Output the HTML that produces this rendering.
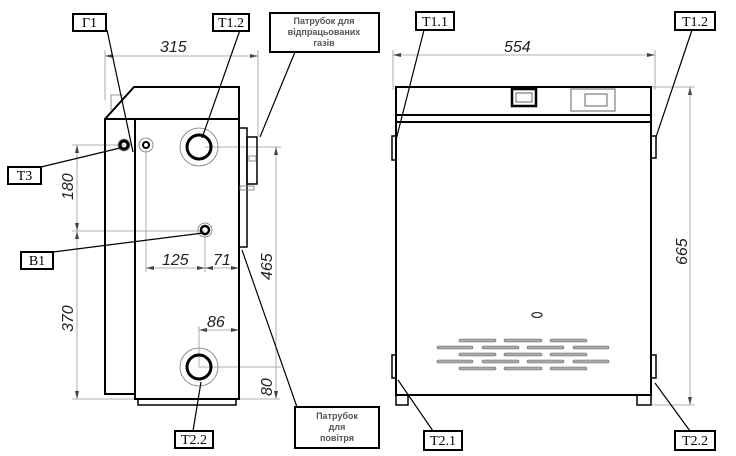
<!DOCTYPE html>
<html><head><meta charset="utf-8"><style>
html,body{margin:0;padding:0;background:#fff;}
svg{display:block;}
.lb{font-family:"Liberation Serif",serif;font-size:14px;fill:#000;}
.dm{font-family:"Liberation Sans",sans-serif;font-style:italic;font-size:16px;fill:#222;}
.sm{font-family:"Liberation Sans",sans-serif;font-size:9px;font-weight:bold;fill:#555;}
</style></head><body>
<svg width="736" height="456" viewBox="0 0 736 456" xmlns="http://www.w3.org/2000/svg">
<rect width="736" height="456" fill="#fff"/>
<!-- LEFT VIEW -->
<g stroke="#999" stroke-width="0.8" fill="none">
<line x1="105" y1="50" x2="105" y2="100"/><line x1="258" y1="50" x2="258" y2="136"/>
<line x1="105" y1="56" x2="258" y2="56"/>
<line x1="72" y1="145" x2="125" y2="145"/><line x1="72" y1="231" x2="205" y2="231"/><line x1="72" y1="399" x2="280" y2="399"/>
<line x1="77" y1="145" x2="77" y2="399"/>
<line x1="205" y1="147" x2="281" y2="147"/><line x1="276" y1="147" x2="276" y2="399"/>
<line x1="199" y1="367" x2="281" y2="367"/>
<line x1="146" y1="150" x2="146" y2="272"/><line x1="205" y1="235" x2="205" y2="272"/><line x1="239" y1="250" x2="239" y2="272"/>
<line x1="146" y1="268" x2="239" y2="268"/>
<line x1="199" y1="326" x2="199" y2="367"/><line x1="199" y1="330" x2="239" y2="330"/>
</g>
<g fill="#444">
<path d="M105 56 l8 -2 v4z"/><path d="M258 56 l-8 -2 v4z"/>
<path d="M77 145 l-2 8 h4z"/><path d="M77 231 l-2 -8 h4z"/><path d="M77 231 l-2 8 h4z"/><path d="M77 399 l-2 -8 h4z"/>
<path d="M276 147 l-2 8 h4z"/><path d="M276 399 l-2 -8 h4z"/>
<path d="M146 268 l8 -2 v4z"/><path d="M205 268 l-8 -2 v4z"/><path d="M205 268 l8 -2 v4z"/><path d="M239 268 l-8 -2 v4z"/>
<path d="M199 330 l8 -2 v4z"/><path d="M239 330 l-8 -2 v4z"/>
</g>
<text class="dm" x="160" y="52">315</text>
<text class="dm" transform="translate(73,200) rotate(-90)">180</text>
<text class="dm" transform="translate(73,332) rotate(-90)">370</text>
<text class="dm" transform="translate(272,280) rotate(-90)">465</text>
<text class="dm" transform="translate(272,396) rotate(-90)">80</text>
<text class="dm" x="162" y="265">125</text>
<text class="dm" x="213" y="265">71</text>
<text class="dm" x="207" y="327">86</text>
<g stroke="#000" stroke-width="2" fill="none">
<path d="M105 119 L134 87 L239 87 L239 119"/>
<rect x="105" y="119" width="30" height="275"/>
<rect x="135" y="119" width="104" height="280"/>
<rect x="138" y="399" width="98" height="6" stroke-width="1.5"/>
<rect x="239" y="128" width="8" height="119" stroke-width="1.5"/>
<rect x="247" y="137" width="10" height="47" stroke-width="1.5"/>
<circle cx="199" cy="147" r="12" stroke-width="3"/>
<circle cx="205" cy="230" r="4" stroke-width="2.5"/>
<circle cx="199" cy="367" r="12" stroke-width="3"/>
<circle cx="124" cy="145" r="4" stroke-width="3"/>
<circle cx="146" cy="145" r="3" stroke-width="2"/>
</g>
<g stroke="#777" stroke-width="0.8" fill="none">
<path d="M111 110 V95 h12"/>
<circle cx="199" cy="147" r="19"/><circle cx="199" cy="367" r="19"/>
<circle cx="205" cy="230" r="7"/><circle cx="146" cy="145" r="7"/><circle cx="124" cy="145" r="6"/>
<rect x="249" y="156" width="7" height="5"/><rect x="240" y="186" width="14" height="4"/>
</g>
<!-- leaders left -->
<g stroke="#000" stroke-width="1.2">
<line x1="107" y1="30" x2="133" y2="152"/>
<line x1="240" y1="30" x2="202" y2="138"/>
<line x1="295" y1="52" x2="260" y2="137"/>
<line x1="41" y1="167" x2="120" y2="148"/>
<line x1="53" y1="252" x2="203" y2="233"/>
<line x1="193" y1="431" x2="201" y2="382"/>
<line x1="297" y1="407" x2="242" y2="250"/>
</g>
<g stroke="#000" stroke-width="2" fill="#fff">
<rect x="73" y="14" width="33" height="17"/>
<rect x="213" y="14" width="36" height="17"/>
<rect x="270" y="13" width="109" height="39"/>
<rect x="8" y="167" width="33" height="17"/>
<rect x="21" y="252" width="32" height="17"/>
<rect x="175" y="431" width="38" height="17"/>
<rect x="295" y="407" width="84" height="41"/>
</g>
<text class="lb" x="89.5" y="27" text-anchor="middle">Г1</text>
<text class="lb" x="231" y="27" text-anchor="middle">T1.2</text>
<text class="lb" x="24.5" y="180" text-anchor="middle">T3</text>
<text class="lb" x="37" y="265" text-anchor="middle">B1</text>
<text class="lb" x="194" y="444" text-anchor="middle">T2.2</text>
<text class="sm" x="324" y="24" text-anchor="middle">Патрубок для</text>
<text class="sm" x="324" y="35" text-anchor="middle">відпрацьованих</text>
<text class="sm" x="324" y="46" text-anchor="middle">газів</text>
<text class="sm" x="337" y="419" text-anchor="middle">Патрубок</text>
<text class="sm" x="337" y="430" text-anchor="middle">для</text>
<text class="sm" x="337" y="441" text-anchor="middle">повітря</text>

<!-- RIGHT VIEW -->
<g stroke="#999" stroke-width="0.8" fill="none">
<line x1="393" y1="50" x2="393" y2="90"/><line x1="655" y1="50" x2="655" y2="90"/>
<line x1="393" y1="55" x2="655" y2="55"/>
<line x1="651" y1="87" x2="695" y2="87"/><line x1="651" y1="405" x2="695" y2="405"/>
<line x1="690" y1="87" x2="690" y2="405"/>
</g>
<g fill="#444">
<path d="M393 55 l8 -2 v4z"/><path d="M655 55 l-8 -2 v4z"/>
<path d="M690 87 l-2 8 h4z"/><path d="M690 405 l-2 -8 h4z"/>
</g>
<text class="dm" x="504" y="52">554</text>
<text class="dm" transform="translate(687,265) rotate(-90)">665</text>
<g stroke="#000" stroke-width="2" fill="none">
<rect x="396" y="87" width="255" height="308"/>
<line x1="396" y1="115" x2="651" y2="115"/><line x1="396" y1="122" x2="651" y2="122"/>
<rect x="512" y="89" width="24" height="17" stroke-width="2.5"/>
<rect x="392" y="136" width="4" height="24" stroke-width="1.5"/>
<rect x="651" y="136" width="5" height="22" stroke-width="1.5"/>
<rect x="392" y="355" width="4" height="23" stroke-width="1.5"/>
<rect x="651" y="355" width="5" height="23" stroke-width="1.5"/>
<rect x="396" y="395" width="12" height="10" stroke-width="1.5"/>
<rect x="637" y="395" width="14" height="10" stroke-width="1.5"/>
</g>
<g stroke="#666" stroke-width="1" fill="none">
<rect x="571" y="89" width="44" height="22"/>
<rect x="585" y="94" width="22" height="12"/>
<rect x="516" y="93" width="16" height="9"/>
<ellipse cx="537" cy="315" rx="5" ry="2.5" stroke="#333" stroke-width="1.3"/>
</g>
<g fill="#aaa" stroke="#666" stroke-width="0.6">
<rect x="459" y="339" width="37" height="3" rx="1.5"/><rect x="504" y="339" width="38" height="3" rx="1.5"/><rect x="550" y="339" width="37" height="3" rx="1.5"/>
<rect x="437" y="346" width="36" height="3" rx="1.5"/><rect x="482" y="346" width="37" height="3" rx="1.5"/><rect x="527" y="346" width="37" height="3" rx="1.5"/><rect x="573" y="346" width="36" height="3" rx="1.5"/>
<rect x="459" y="353" width="37" height="3" rx="1.5"/><rect x="504" y="353" width="38" height="3" rx="1.5"/><rect x="550" y="353" width="37" height="3" rx="1.5"/>
<rect x="437" y="360" width="36" height="3" rx="1.5"/><rect x="482" y="360" width="37" height="3" rx="1.5"/><rect x="527" y="360" width="37" height="3" rx="1.5"/><rect x="573" y="360" width="36" height="3" rx="1.5"/>
<rect x="459" y="367" width="37" height="3" rx="1.5"/><rect x="504" y="367" width="38" height="3" rx="1.5"/><rect x="550" y="367" width="37" height="3" rx="1.5"/>
</g>
<g stroke="#000" stroke-width="1.2">
<line x1="424" y1="30" x2="396" y2="140"/>
<line x1="692" y1="30" x2="656" y2="137"/>
<line x1="433" y1="431" x2="398" y2="380"/>
<line x1="690" y1="431" x2="655" y2="383"/>
</g>
<g stroke="#000" stroke-width="2" fill="#fff">
<rect x="416" y="12" width="38" height="18"/>
<rect x="675" y="12" width="40" height="18"/>
<rect x="424" y="431" width="38" height="19"/>
<rect x="675" y="431" width="40" height="19"/>
</g>
<text class="lb" x="435" y="26" text-anchor="middle">T1.1</text>
<text class="lb" x="695" y="26" text-anchor="middle">T1.2</text>
<text class="lb" x="443" y="445" text-anchor="middle">T2.1</text>
<text class="lb" x="695" y="445" text-anchor="middle">T2.2</text>
</svg>
</body></html>
